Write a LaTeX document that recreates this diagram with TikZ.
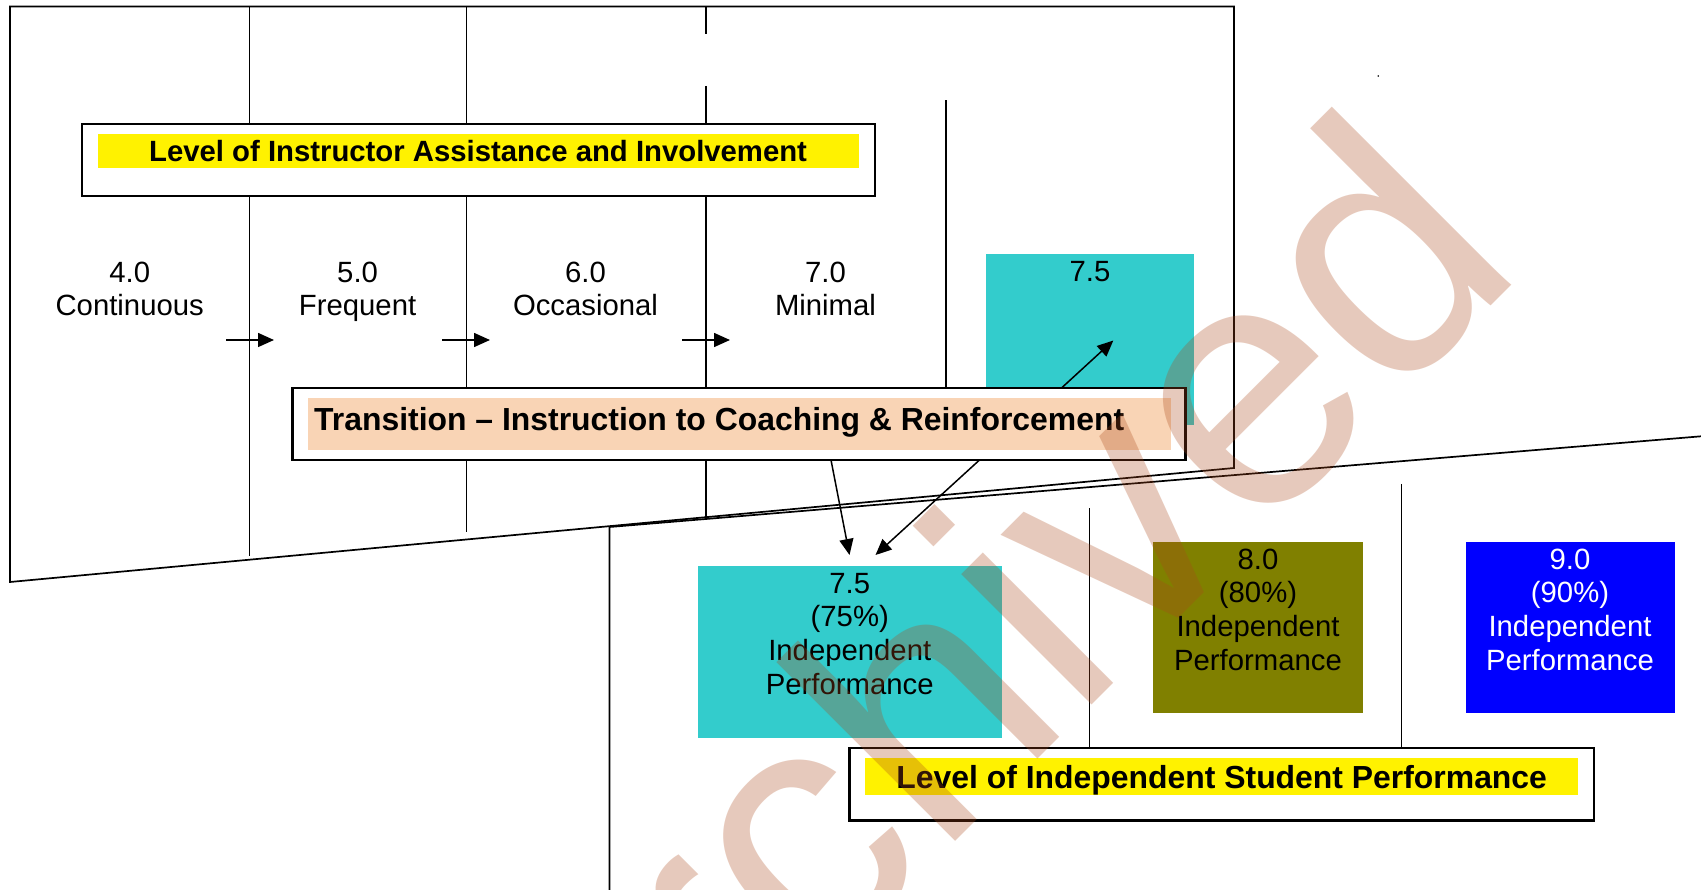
\documentclass[tikz,border=0pt]{standalone}
\usepackage{fontspec}
\setmainfont{Liberation Sans}
\usetikzlibrary{arrows.meta}
\definecolor{peach}{RGB}{249,212,181}
\definecolor{aqua}{RGB}{51,204,204}
\definecolor{olivebox}{RGB}{128,128,0}
\definecolor{wmark}{RGB}{172,72,25}
\begin{document}
\begin{tikzpicture}[x=1pt,y=-1pt,
  frame/.style={line width=1.7pt},
  divider/.style={line width=1.5pt},
  arr/.style={line width=1.5pt,-{Triangle[length=16pt,width=14pt]}},
  titlebox/.style={draw,line width=2.2pt,fill=white,inner sep=0pt},
  band/.style={inner sep=0pt,text depth=0pt},
  ttl/.style={font=\bfseries\fontsize{31.9}{36}\selectfont,text height=22.9pt},
  ttlsmall/.style={font=\bfseries\fontsize{29.3}{34}\selectfont,text height=21pt},
  lbl/.style={font=\fontsize{29.3}{33.8}\selectfont,align=center,inner sep=0pt},
  levelbox/.style={inner sep=0pt,minimum width=#1,minimum height=171.3pt}
]
\useasboundingbox (0,0) rectangle (1701,890);
\fill[white] (0,0) rectangle (1701,890);

% upper frame and the skewed frame below it
\draw[frame] (10,6.5) -- (1234,6.5) -- (1234,468) -- (10,582) -- cycle;
\coordinate (skew) at (609.5,527);
\draw[frame] (1701,436.3) -- (skew) -- (609.5,890);

% column dividers of the upper scale
\draw[divider] (249.5,6.5) -- (249.5,555.5);
\draw[divider] (466.5,6.5) -- (466.5,532);
\draw[divider] (706,6.5) -- (706,33.7);
\draw[divider] (706,86) -- (706,516.6);
\draw[divider] (946,100.3) -- (946,388);

% column dividers of the lower scale
\draw[divider] (1089.5,508) -- (1089.5,748);
\draw[divider] (1401.5,484) -- (1401.5,748);

\fill (1378.3,76) circle (0.9);

% scale labels (base anchor sits on the last line)
\node[lbl,anchor=base] (s4) at (129.7,316) {4.0\\Continuous};
\node[lbl,anchor=base] (s5) at (357.6,316) {5.0\\Frequent};
\node[lbl,anchor=base] (s6) at (585.5,316) {6.0\\Occasional};
\node[lbl,anchor=base] (s7) at (825.5,316) {7.0\\Minimal};

% progression arrows between the columns
\coordinate (a1s) at (226,340); \coordinate (a1e) at (274,340);
\coordinate (a2s) at (442,340); \coordinate (a2e) at (490,340);
\coordinate (a3s) at (682,340); \coordinate (a3e) at (730,340);
\draw[arr] (a1s) -- (a1e);
\draw[arr] (a2s) -- (a2e);
\draw[arr] (a3s) -- (a3e);

% upper 7.5 level
\node[levelbox=208.7pt,minimum height=170.8pt,fill=aqua] (up75) at (1090,339.4) {};
\node[lbl,anchor=base] (up75t) at ([yshift=-27.7pt]up75.north) {7.5};

% instructor assistance title
\node[titlebox,minimum width=793pt,minimum height=72pt] (instr) at (478.5,160) {};
\node[band,fill=yellow,minimum width=761pt,minimum height=34pt,ttlsmall] (instrband) at (478.1,151.5)
  {Level of Instructor Assistance and Involvement};

% transition title
\node[titlebox,minimum width=893.1pt,minimum height=72pt] (trans) at (739,424) {};
\node[inner sep=0pt,fill=peach,minimum width=863pt,minimum height=52pt] (transband) at (739.5,424) {};
\node[font=\bfseries\fontsize{31.9}{36}\selectfont,inner sep=0pt,anchor=base west] (transtxt) at (314,430.5)
  {Transition – Instruction to Coaching \& Reinforcement};

% independent performance levels
\node[levelbox=304.5pt,minimum height=171.5pt,fill=aqua] (lo75) at (849.75,651.75) {};
\node[lbl,anchor=base] (lo75t) at ([yshift=-128.7pt]lo75.north) {7.5\\(75\%)\\Independent\\Performance};
\node[levelbox=209.2pt,fill=olivebox] (lo80) at (1258,627.65) {};
\node[lbl,anchor=base] (lo80t) at ([yshift=-128.7pt]lo80.north) {8.0\\(80\%)\\Independent\\Performance};
\node[levelbox=209pt,fill=blue] (lo90) at (1570,627.65) {};
\node[lbl,anchor=base,text=white] (lo90t) at ([yshift=-128.7pt]lo90.north) {9.0\\(90\%)\\Independent\\Performance};

% student performance title
\node[titlebox,minimum width=744.3pt,minimum height=72.5pt] (stud) at (1221.6,784.2) {};
\node[band,fill=yellow,minimum width=713.4pt,minimum height=37pt,ttl] (studband) at (1221.7,776.8)
  {Level of Independent Student Performance};

% transition arrows
\coordinate (t1) at (831,460);  \coordinate (t1e) at (849.5,555);
\coordinate (t2) at (979.5,460); \coordinate (t2e) at (875.5,555);
\coordinate (t3) at (1061.5,388); \coordinate (t3e) at (1113.3,340.5);
\draw[arr] (t1) -- (t1e);
\draw[arr] (t2) -- (t2e);
\draw[arr] (t3) -- (t3e);

% watermark
\begin{scope}
\clip (0,0) rectangle (1701,890);
\node[anchor=base west,rotate=45,inner sep=0pt,text=wmark,text opacity=0.29,
  font=\fontsize{349}{349}\selectfont] (stamp) at (568,1229) {Archived};
\end{scope}
\end{tikzpicture}
\end{document}
